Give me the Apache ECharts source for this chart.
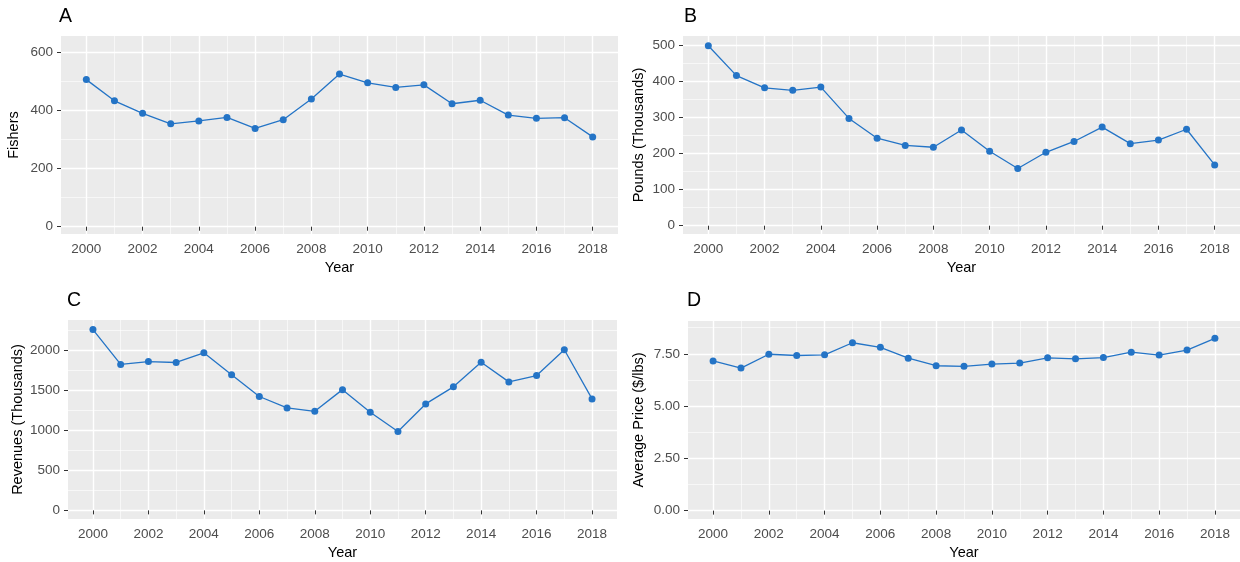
<!DOCTYPE html>
<html>
<head>
<meta charset="utf-8">
<script src="https://cdn.jsdelivr.net/npm/echarts@6/dist/echarts.min.js"></script>
<style>
html,body{margin:0;padding:0;background:#fff;}
#chart{width:1240px;height:562px;}
</style>
</head>
<body>
<div id="chart"></div>
<script>
// ---- data ----
const years = [2000,2001,2002,2003,2004,2005,2006,2007,2008,2009,2010,2011,2012,2013,2014,2015,2016,2017,2018];
const fishers = [506,433,390,354,364,376,338,368,439,525,495,479,488,423,435,384,373,375,309];
const pounds = [500,417,383,376,385,298,243,223,218,266,207,159,204,234,274,228,238,268,169];
const revenues = [2264,1828,1864,1852,1973,1698,1426,1283,1241,1512,1228,987,1333,1547,1855,1609,1688,2011,1396];
const price = [7.16,6.82,7.48,7.42,7.45,8.03,7.81,7.29,6.93,6.90,7.01,7.06,7.31,7.26,7.32,7.58,7.44,7.68,8.24];

const yearTicks = [2000,2002,2004,2006,2008,2010,2012,2014,2016,2018];
const yearMinor = [2001,2003,2005,2007,2009,2011,2013,2015,2017];
const fishersTicks = [0,200,400,600];
const fishersMinor = [100,300,500];
const poundsTicks = [0,100,200,300,400,500];
const poundsMinor = [50,150,250,350,450];
const revenuesTicks = [0,500,1000,1500,2000];
const revenuesMinor = [250,750,1250,1750,2250];
const priceTicks = [0,2.5,5,7.5];
const priceMinor = [1.25,3.75,6.25,8.75];

const panelLetters = ['A','B','C','D'];
const yTitles = ['Fishers','Pounds (Thousands)','Revenues (Thousands)','Average Price ($/lbs)'];
const xTitle = 'Year';

// ---- layout / style ----
const FONT = '"Liberation Sans", Arial, sans-serif';
const LINE = '#2474C6';
const panels = [
  {grid:{left:61, top:36, width:557, height:198}, ymin:-25, ymax:656, ticks:fishersTicks, minor:fishersMinor, vals:fishers, fmt:null, letter:{left:59, top:7}, yGap:40},
  {grid:{left:683, top:36, width:558, height:198}, ymin:-23, ymax:527, ticks:poundsTicks, minor:poundsMinor, vals:pounds, fmt:null, letter:{left:684, top:7}, yGap:37},
  {grid:{left:68, top:320, width:549, height:199}, ymin:-108, ymax:2384, ticks:revenuesTicks, minor:revenuesMinor, vals:revenues, fmt:null, letter:{left:67, top:291}, yGap:43},
  {grid:{left:688, top:321, width:553, height:198}, ymin:-0.4, ymax:9.07, ticks:priceTicks, minor:priceMinor, vals:price, fmt:(v)=>Number(v).toFixed(2), letter:{left:687, top:291}, yGap:42}
];

const grids = [], xAxes = [], yAxes = [], series = [], titles = [];
panels.forEach((p, i) => {
  grids.push(Object.assign({show:true, backgroundColor:'#EBEBEB', borderWidth:0, containLabel:false}, p.grid));
  titles.push({text: panelLetters[i], left: p.letter.left, top: p.letter.top, padding:0,
    textStyle:{fontFamily:FONT, fontSize:19.5, fontWeight:'normal', color:'#000'}});
  // major x
  xAxes.push({
    type:'value', gridIndex:i, min:1999.1, max:2018.9, position:'bottom',
    name:xTitle, nameLocation:'middle', nameGap:26,
    nameTextStyle:{fontFamily:FONT, fontSize:14.5, color:'#000'},
    axisLine:{show:false},
    axisTick:{show:true, length:4, customValues:yearTicks, lineStyle:{color:'#333', width:1}},
    axisLabel:{show:true, customValues:yearTicks, margin:8, fontFamily:FONT, fontSize:13.5, color:'#4D4D4D', formatter:(v)=>String(v)},
    splitLine:{show:true, lineStyle:{color:'#FFFFFF', width:1.4}}
  });
  // minor x
  xAxes.push({
    type:'value', gridIndex:i, min:1999.1, max:2018.9, position:'top',
    axisLine:{show:false},
    axisTick:{show:false, customValues:yearMinor},
    axisLabel:{show:false, customValues:yearMinor},
    splitLine:{show:true, lineStyle:{color:'#FFFFFF', width:0.6}}
  });
  // major y
  yAxes.push({
    type:'value', gridIndex:i, min:p.ymin, max:p.ymax, position:'left',
    name:yTitles[i], nameLocation:'middle', nameGap:p.yGap,
    nameTextStyle:{fontFamily:FONT, fontSize:14.5, color:'#000'},
    axisLine:{show:false},
    axisTick:{show:true, length:4, customValues:p.ticks, lineStyle:{color:'#333', width:1}},
    axisLabel:{show:true, customValues:p.ticks, margin:8, fontFamily:FONT, fontSize:13.5, color:'#4D4D4D',
      formatter: p.fmt ? p.fmt : (v)=>String(v)},
    splitLine:{show:true, lineStyle:{color:'#FFFFFF', width:1.4}}
  });
  // minor y
  yAxes.push({
    type:'value', gridIndex:i, min:p.ymin, max:p.ymax, position:'right',
    axisLine:{show:false},
    axisTick:{show:false, customValues:p.minor},
    axisLabel:{show:false, customValues:p.minor},
    splitLine:{show:true, lineStyle:{color:'#FFFFFF', width:0.6}}
  });
  series.push({
    type:'line', xAxisIndex:2*i, yAxisIndex:2*i,
    data: years.map((y, k) => [y, p.vals[k]]),
    symbol:'circle', symbolSize:7, showSymbol:true,
    lineStyle:{color:LINE, width:1.3},
    itemStyle:{color:LINE},
    z:5
  });
});

const chart = echarts.init(document.getElementById('chart'), null, {renderer:'canvas'});
chart.setOption({
  animation:false,
  backgroundColor:'#FFFFFF',
  title: titles,
  grid: grids,
  xAxis: xAxes,
  yAxis: yAxes,
  series: series
});
</script>
</body>
</html>
